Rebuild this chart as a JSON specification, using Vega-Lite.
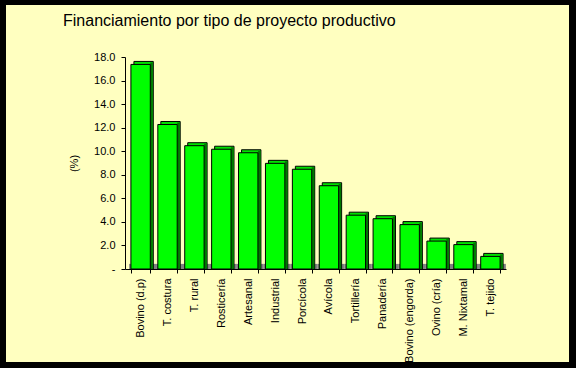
{
  "$schema": "https://vega.github.io/schema/vega-lite/v6.json",
  "width": 563,
  "height": 357,
  "autosize": {"type": "none"},
  "padding": {"left": 6, "top": 5, "right": 7, "bottom": 6},
  "background": "#000000",
  "title": {
    "text": "Financiamiento por tipo de proyecto productivo",
    "anchor": "start",
    "frame": "group",
    "orient": "top",
    "baseline": "alphabetic",
    "offset": -37,
    "dx": 57,
    "font": "Liberation Sans",
    "fontSize": 16,
    "fontWeight": "normal",
    "color": "#000000"
  },
  "config": {
    "view": {"fill": "#FFFFC0", "stroke": null},
    "axis": {
      "labelFont": "Liberation Sans",
      "labelFontSize": 11,
      "labelColor": "#000000",
      "titleFont": "Liberation Sans",
      "titleFontSize": 11,
      "titleFontWeight": "normal",
      "titleColor": "#000000",
      "domainColor": "#000000",
      "tickColor": "#000000",
      "grid": false,
      "labelOverlap": false
    },
    "axisY": {
      "title": "(%)",
      "orient": "left",
      "offset": -119,
      "values": [0, 2, 4, 6, 8, 10, 12, 14, 16, 18],
      "labelExpr": "datum.value === 0 ? '-' : format(datum.value, '.1f')",
      "labelOverlap": false,
      "labelBound": false,
      "tickSize": 4,
      "labelPadding": 6,
      "titlePadding": 14
    }
  },
  "data": {
    "values": [
      {"proyecto": "Bovino (d.p)", "pct": 17.2},
      {"proyecto": "T. costura", "pct": 12.1},
      {"proyecto": "T. rural", "pct": 10.3},
      {"proyecto": "Rosticería", "pct": 10.0},
      {"proyecto": "Artesanal", "pct": 9.7},
      {"proyecto": "Industrial", "pct": 8.8},
      {"proyecto": "Porcícola", "pct": 8.3},
      {"proyecto": "Avícola", "pct": 6.9},
      {"proyecto": "Tortillería", "pct": 4.4},
      {"proyecto": "Panadería", "pct": 4.1},
      {"proyecto": "Bovino (engorda)", "pct": 3.6},
      {"proyecto": "Ovino (cría)", "pct": 2.2},
      {"proyecto": "M. Nixtamal", "pct": 1.9},
      {"proyecto": "T. tejido", "pct": 0.9}
    ]
  },
  "encoding": {
    "x": {
      "field": "proyecto",
      "type": "nominal",
      "sort": null,
      "scale": {"range": [119, 500], "paddingInner": 0.28, "paddingOuter": 0.22},
      "axis": {
        "title": null,
        "orient": "bottom",
        "offset": -93,
        "labelAngle": -90,
        "labelAlign": "right",
        "labelBaseline": "middle",
        "labelPadding": 5,
        "tickBand": "extent",
        "tickSize": 4
      }
    }
  },
  "layer": [
    {
      "mark": {"type": "bar", "color": "#808080", "width": {"band": 1.39}, "xOffset": 2, "yOffset": -1},
      "encoding": {
        "y": {"datum": 0.35, "type": "quantitative", "scale": {"domain": [0, 18], "range": [264, 52]}, "title": "(%)"},
        "y2": {"datum": 0}
      }
    },
    {
      "mark": {"type": "bar", "color": "#00E000", "stroke": "#000000", "strokeWidth": 1, "xOffset": 3, "yOffset": -5},
      "encoding": {
        "y": {"field": "pct", "type": "quantitative", "title": "(%)"},
        "y2": {"datum": 0}
      }
    },
    {
      "mark": {"type": "bar", "color": "#007800", "width": 2.5, "xOffset": 10.95, "yOffset": -4},
      "encoding": {
        "y": {"field": "pct", "type": "quantitative", "title": "(%)"},
        "y2": {"datum": 0}
      }
    },
    {
      "mark": {"type": "bar", "color": "#00FF00", "stroke": "#000000", "strokeWidth": 1, "yOffset": -2},
      "encoding": {
        "y": {"field": "pct", "type": "quantitative", "title": "(%)", "scale": {"domain": [0, 18], "range": [264, 52]}},
        "y2": {"datum": 0}
      }
    }
  ]
}
